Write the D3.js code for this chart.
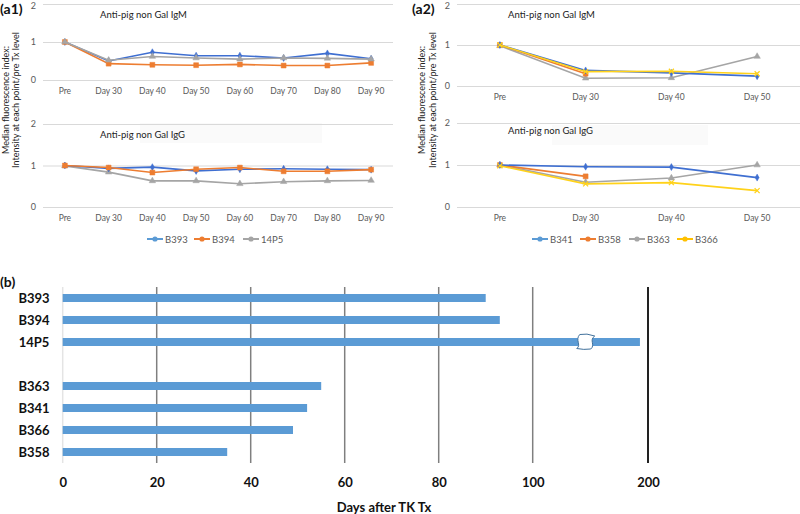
<!DOCTYPE html>
<html><head><meta charset="utf-8">
<script src="https://cdn.jsdelivr.net/npm/d3@7"></script>
<style>body{margin:0;background:#fff} svg{display:block}</style>
</head><body>
<svg id="chart" width="800" height="514"></svg>
<script>
// ---------- data ----------
const a1Days = ["Pre","Day 30","Day 40","Day 50","Day 60","Day 70","Day 80","Day 90"];
const a1IgM_B393 = [1,0.5,0.73,0.64,0.64,0.58,0.7,0.56];
const a1IgM_B394 = [1,0.43,0.4,0.39,0.41,0.38,0.38,0.45];
const a1IgM_14P5 = [1,0.52,0.62,0.58,0.55,0.58,0.57,0.55];
const a1IgG_B393 = [1,0.93,0.96,0.87,0.91,0.92,0.91,0.9];
const a1IgG_B394 = [1,0.95,0.83,0.91,0.95,0.86,0.86,0.9];
const a1IgG_14P5 = [0.99,0.84,0.63,0.63,0.56,0.61,0.63,0.64];

const a2Days = ["Pre","Day 30","Day 40","Day 50"];
const a2IgM_B341 = [1,0.38,0.32,0.24];
const a2IgM_B358 = [1,0.3,null,null];
const a2IgM_B363 = [0.98,0.19,0.2,0.72];
const a2IgM_B366 = [1,0.35,0.36,0.3];
const a2IgG_B341 = [1,0.96,0.95,0.7];
const a2IgG_B358 = [1,0.73,null,null];
const a2IgG_B363 = [1,0.59,0.69,1.0];
const a2IgG_B366 = [0.98,0.55,0.58,0.39];

const yTicks = [0,1,2];

const survivalAnimals = ["B393","B394","14P5","","B363","B341","B366","B358"];
const survivalDays = [90,93,193,null,55,52,49,35];
const dayTicks = [0,20,40,60,80,100,200];

// ---------- styles ----------
const FONT = "Lato, 'Open Sans', 'Liberation Sans', sans-serif";
const style = {
  B393:{line:"#3f6fd1", legend:"#5B9BD5", sym:d3.symbolDiamond, size:14, fill:true},
  B341:{line:"#3f6fd1", legend:"#5B9BD5", sym:d3.symbolDiamond, size:14, fill:true},
  B394:{line:"#ED7D31", legend:"#ED7D31", sym:d3.symbolSquare, size:24, fill:true},
  B358:{line:"#ED7D31", legend:"#ED7D31", sym:d3.symbolSquare, size:24, fill:true},
  "14P5":{line:"#A5A5A5", legend:"#A5A5A5", sym:d3.symbolTriangle, size:18, fill:true},
  B363:{line:"#A5A5A5", legend:"#A5A5A5", sym:d3.symbolTriangle, size:18, fill:true},
  B366:{line:"#FFD21A", legend:"#FFC000", sym:d3.symbolX, size:18, fill:false}
};

const svg = d3.select("#chart").style("font-family", FONT);

function drawSub(cfg){
  const g = svg.append("g");
  const x = d3.scaleBand().domain(cfg.cats).range([cfg.x0, cfg.x1]);
  const y = d3.scaleLinear().domain([0,2]).range([cfg.yZero, cfg.yTwo]);
  if (cfg.box) g.append("rect").attr("x",cfg.box[0]).attr("y",cfg.box[1])
      .attr("width",cfg.box[2]).attr("height",cfg.box[3]).attr("fill","#fafafa");
  const ya = g.append("g").attr("transform",`translate(${cfg.x0},0)`)
    .call(d3.axisLeft(y).tickValues(yTicks).tickSize(-(cfg.x1-cfg.x0)).tickPadding(7).tickFormat(d3.format("d")));
  ya.select(".domain").remove();
  ya.selectAll("line").attr("stroke","#d9d9d9").attr("stroke-width",1);
  ya.selectAll("text").attr("fill","#595959").style("font-size","9px").style("font-family",FONT)
    .attr("y", d => (d===2 && cfg.yTwo<10) ? 2 : 0);
  const xa = g.append("g").attr("transform",`translate(0,${cfg.yZero})`)
    .call(d3.axisBottom(x).tickSize(0).tickPadding(8));
  xa.select(".domain").remove();
  xa.selectAll("text").attr("fill","#595959").style("font-size","8.5px").style("font-family",FONT);
  g.append("text").attr("x",cfg.titleX).attr("y",cfg.titleY).text(cfg.title)
    .attr("fill","#222").style("font-size","9.5px");
  const line = d3.line().defined(d=>d!=null).x((d,i)=>x(cfg.cats[i])+x.bandwidth()/2).y(d=>y(d));
  cfg.series.forEach(s=>{
    const st = style[s.name];
    g.append("path").attr("d", line(s.values)).attr("fill","none")
      .attr("stroke", st.line).attr("stroke-width",1.6);
    s.values.forEach((v,i)=>{
      if (v==null) return;
      g.append("path").attr("d", d3.symbol().type(st.sym).size(st.size)())
        .attr("transform",`translate(${x(cfg.cats[i])+x.bandwidth()/2},${y(v)})`)
        .attr("fill", st.fill ? st.line : "none")
        .attr("stroke", st.line).attr("stroke-width", st.fill?0.5:1.3);
    });
  });
}

function yLabel(xa, xb, cy){
  svg.append("text").attr("transform",`translate(${xa},${cy}) rotate(-90)`)
    .attr("text-anchor","middle").attr("fill","#222").style("font-size","9px")
    .text("Median fluorescence index:");
  svg.append("text").attr("transform",`translate(${xb},${cy}) rotate(-90)`)
    .attr("text-anchor","middle").attr("fill","#222").style("font-size","9px")
    .text("Intensity at each point/pre Tx level");
}

function legend(names, xs, y){
  names.forEach((n,i)=>{
    const st = style[n];
    const lx = xs[i];
    svg.append("line").attr("x1",lx).attr("x2",lx+16).attr("y1",y).attr("y2",y)
      .attr("stroke",st.legend).attr("stroke-width",2);
    svg.append("circle").attr("cx",lx+8).attr("cy",y).attr("r",2.6).attr("fill",st.legend);
    svg.append("text").attr("x",lx+18).attr("y",y+3.5).text(n)
      .attr("fill","#595959").style("font-size","9.5px");
  });
}

// ----- panel a1 -----
drawSub({cats:a1Days, x0:43, x1:393, yZero:80, yTwo:4, title:"Anti-pig non Gal IgM", titleX:100, titleY:18,
  series:[{name:"B393",values:a1IgM_B393},{name:"B394",values:a1IgM_B394},{name:"14P5",values:a1IgM_14P5}]});
drawSub({cats:a1Days, x0:43, x1:393, yZero:207, yTwo:124, title:"Anti-pig non Gal IgG", titleX:100, titleY:138,
  box:[140,123,182,20],
  series:[{name:"14P5",values:a1IgG_14P5},{name:"B393",values:a1IgG_B393},{name:"B394",values:a1IgG_B394}]});
yLabel(9, 19, 100);
legend(["B393","B394","14P5"], [147,194,243], 239);

// ----- panel a2 -----
drawSub({cats:a2Days, x0:457, x1:800, yZero:86, yTwo:4, title:"Anti-pig non Gal IgM", titleX:508, titleY:18,
  series:[{name:"B363",values:a2IgM_B363},{name:"B358",values:a2IgM_B358},{name:"B341",values:a2IgM_B341},{name:"B366",values:a2IgM_B366}]});
drawSub({cats:a2Days, x0:457, x1:800, yZero:207, yTwo:123, title:"Anti-pig non Gal IgG", titleX:508, titleY:134,
  box:[552,125,156,20],
  series:[{name:"B363",values:a2IgG_B363},{name:"B358",values:a2IgG_B358},{name:"B341",values:a2IgG_B341},{name:"B366",values:a2IgG_B366}]});
yLabel(425, 436, 100);
legend(["B341","B358","B363","B366"], [532,580,629,677], 239);

// panel tags
svg.append("text").attr("x",0).attr("y",14).text("(a1)").attr("font-weight","bold").style("font-size","14px").attr("fill","#111");
svg.append("text").attr("x",412).attr("y",14).text("(a2)").attr("font-weight","bold").style("font-size","14px").attr("fill","#111");
svg.append("text").attr("x",0).attr("y",287).text("(b)").attr("font-weight","bold").style("font-size","14px").attr("fill","#111");

// ----- panel b -----
const bx = d3.scaleLinear().domain([0,100,200]).range([62.7,532.7,648]);
const by = d3.scaleBand().domain(survivalAnimals).range([287,463]);
const gb = svg.append("g");
gb.selectAll("line.grid").data(dayTicks).join("line").attr("class","grid")
  .attr("x1",d=>bx(d)).attr("x2",d=>bx(d)).attr("y1",287).attr("y2",463)
  .attr("stroke",d=>d===0?"#e4e4e4":(d===200?"#222":"#7f7f7f"))
  .attr("stroke-width",d=>d===200?2:1.5);
gb.selectAll("rect.bar").data(survivalAnimals.map((a,i)=>({a,d:survivalDays[i]})).filter(o=>o.d!=null))
  .join("rect").attr("class","bar")
  .attr("x",bx(0)).attr("y",o=>by(o.a)+by.bandwidth()/2-4)
  .attr("width",o=>bx(o.d)-bx(0)).attr("height",8).attr("fill","#5B9BD5");
// axis break symbol on the 14P5 bar
const cx = bx(146), cy = by("14P5")+by.bandwidth()/2;
gb.append("path")
  .attr("d",`M${cx-6},${cy-7.5} Q${cx+1},${cy-9} ${cx+9},${cy-6} C${cx+3},${cy-2} ${cx+10},${cy+3} ${cx+5},${cy+7} Q${cx-2},${cy+8} ${cx-9},${cy+6.5} C${cx-4},${cy+3} ${cx-11},${cy-2} ${cx-6},${cy-7.5} Z`)
  .attr("fill","#fff").attr("stroke","#41719C").attr("stroke-width",1);
gb.selectAll("text.row").data(survivalAnimals.filter(a=>a!==""))
  .join("text").attr("class","row").attr("x",34).attr("y",a=>by(a)+by.bandwidth()/2+4.5)
  .attr("text-anchor","middle").attr("font-weight","bold").style("font-size","13px").attr("fill","#111").text(a=>a);
const bax = gb.append("g").attr("transform","translate(0,463)")
  .call(d3.axisBottom(bx).tickValues(dayTicks).tickSize(0).tickPadding(15).tickFormat(d3.format("d")));
bax.select(".domain").remove();
bax.selectAll("text").attr("fill","#111").attr("font-weight","bold").style("font-size","13px").style("font-family",FONT);
gb.append("text").attr("x",384).attr("y",512).attr("text-anchor","middle").attr("font-weight","bold")
  .style("font-size","13px").attr("fill","#111").text("Days after TK Tx");
</script>
</body></html>
